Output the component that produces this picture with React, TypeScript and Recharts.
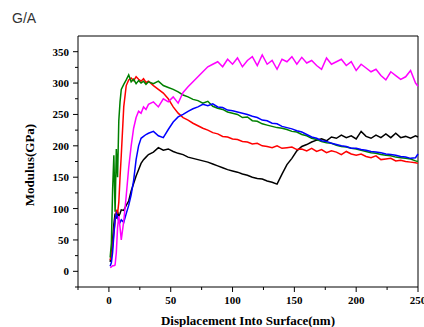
import React from 'react';
import { LineChart, Line, XAxis, YAxis, ReferenceLine, Label } from 'recharts';

// indentation depth (nm), shared by all five curves
const DEPTH = [
  1, 2, 3, 4, 5, 6, 7, 8, 9, 10,
  12, 14, 16, 18, 20, 22, 24, 26, 28, 30,
  32, 36, 40, 44, 48, 52, 56, 60, 64, 68, 72, 76, 80, 84, 88, 92, 96, 100,
  104, 108, 112, 116, 120, 124, 128, 132, 136, 140, 144, 148, 152, 156, 160,
  164, 168, 172, 176, 180, 184, 188, 192, 196, 200, 204, 208, 212, 216, 220,
  224, 228, 232, 236, 240, 244, 248, 250,
];

// modulus (GPa) for each sample
const BLACK = [
  15, 28, 50, 75, 92, 84, 95, 88, 92, 98,
  97, 105, 112, 128, 140, 152, 162, 172, 178, 182,
  186, 190, 197, 193, 195, 191, 188, 186, 182, 180, 178, 176, 174, 171, 168, 165, 162, 160,
  158, 155, 153, 150, 148, 147, 144, 142, 139, 155, 170, 180, 192, 199, 202,
  206, 209, 211, 208, 214, 212, 217, 213, 216, 211, 223, 215, 212, 217, 213,
  219, 213, 220, 213, 215, 212, 216, 214,
];

const RED = [
  18, 25, 40, 62, 80, 98, 92, 110, 150, 185,
  262, 296, 305, 308, 304, 310, 306, 303, 307, 301,
  303, 296, 290, 284, 275, 262, 252, 245, 241, 236, 232, 228, 225, 221, 219, 215, 214, 211,
  210, 207, 206, 203, 204, 200, 199, 197, 200, 196, 197, 198, 194, 195, 192,
  196, 191, 194, 189, 192, 190, 186, 191, 187, 185, 187, 183, 181, 184, 178,
  179, 180, 176, 177, 175, 174, 173, 172,
];

const GREEN = [
  22, 45, 130, 185, 95, 195, 150, 240, 270, 290,
  298, 305, 313, 302, 306, 299, 304, 300, 303, 298,
  302, 299, 303, 296, 293, 290, 286, 281, 278, 274, 272, 268, 271, 263, 260, 258, 254, 252,
  250, 245, 246, 240, 239, 235, 233, 231, 229, 228, 226, 223, 222, 218, 216,
  212, 210, 207, 205, 204, 201, 199, 198, 196, 195, 193, 191, 189, 188, 186,
  185, 184, 182, 181, 180, 179, 176, 175,
];

const BLUE = [
  8, 14, 30, 58, 82, 92, 86, 80, 78, 82,
  78, 92, 105, 122, 145, 178, 200, 212, 215, 218,
  220, 223, 216, 213, 226, 238, 246, 250, 255, 259, 262, 266, 264, 267, 262, 261, 257, 256,
  254, 252, 250, 247, 245, 241, 240, 236, 235, 231, 229, 227, 224, 222, 218,
  214, 212, 208, 207, 204, 202, 200, 199, 196, 196, 194, 193, 191, 190, 189,
  187, 186, 185, 183, 182, 180, 181, 187,
];

const MAGENTA = [
  6, 7, 9, 9, 10, 30, 70, 88, 70, 50,
  80, 120, 165, 200, 228, 245, 255, 252, 262, 258,
  266, 270, 262, 275, 270, 278, 268, 285, 294, 302, 310, 318, 326, 330, 334, 326, 338, 330,
  340, 326, 336, 342, 328, 345, 330, 336, 322, 338, 334, 342, 330, 341, 332,
  336, 328, 322, 340, 330, 334, 338, 328, 334, 320, 330, 324, 318, 322, 312,
  305, 318, 312, 306, 310, 320, 300, 295,
];

const X_TICKS = [-25, 0, 25, 50, 75, 100, 125, 150, 175, 200, 225, 250];
const Y_TICKS = [-25, 0, 25, 50, 75, 100, 125, 150, 175, 200, 225, 250, 275, 300, 325, 350];

const SERIES = [
  { key: 'black', values: BLACK, color: '#000000' },
  { key: 'red', values: RED, color: '#ff0000' },
  { key: 'green', values: GREEN, color: '#008000' },
  { key: 'blue', values: BLUE, color: '#0000ff' },
  { key: 'magenta', values: MAGENTA, color: '#ff00ff' },
];

const data = DEPTH.map((d, i) => {
  const row: Record<string, number> = { depth: d };
  SERIES.forEach((s) => {
    row[s.key] = s.values[i];
  });
  return row;
});

const SERIF = '"Liberation Serif", "Times New Roman", serif';

// tick marks drawn by hand so minor ticks can be shorter than major ones
const XTick = ({ x, y, payload }: any) => {
  const major = payload.value % 50 === 0;
  const y0 = y - 7;
  return (
    <g>
      <line x1={x} x2={x} y1={y0} y2={y0 + (major ? 5 : 3)} stroke="#000" strokeWidth={1} />
      {major && (
        <text x={x} y={y0 + 17} textAnchor="middle" fontFamily={SERIF} fontWeight="bold" fontSize={11} fill="#000">
          {payload.value}
        </text>
      )}
    </g>
  );
};

const YTick = ({ x, y, payload }: any) => {
  const major = payload.value % 50 === 0;
  const x0 = x + 7;
  return (
    <g>
      <line x1={x0} x2={x0 - (major ? 5 : 3)} y1={y} y2={y} stroke="#000" strokeWidth={1} />
      {major && (
        <text x={x0 - 9} y={y + 4} textAnchor="end" fontFamily={SERIF} fontWeight="bold" fontSize={11} fill="#000">
          {payload.value}
        </text>
      )}
    </g>
  );
};

export default function App() {
  return (
    <div style={{ position: 'absolute', left: 0, top: 0, width: 424, height: 327, background: '#fff' }}>
      <div
        style={{
          position: 'absolute',
          left: 12,
          top: 10,
          fontFamily: '"Liberation Sans", Arial, sans-serif',
          fontSize: 14,
          color: '#333',
        }}
      >
        G/A
      </div>
      <LineChart width={424} height={327} data={data} margin={{ top: 36, right: 6, left: 0, bottom: 0 }}>
        <XAxis
          dataKey="depth"
          type="number"
          domain={[-25, 250]}
          ticks={X_TICKS}
          interval={0}
          height={40}
          tickSize={5}
          tickMargin={2}
          tickLine={false}
          axisLine={{ stroke: '#000', strokeWidth: 1 }}
          tick={<XTick />}
        >
          <Label
            content={() => (
              <text x={248} y={325} textAnchor="middle" fontFamily={SERIF} fontWeight="bold" fontSize={13} fill="#000">
                Displacement Into Surface(nm)
              </text>
            )}
          />
        </XAxis>
        <YAxis
          type="number"
          domain={[-25, 375]}
          ticks={Y_TICKS}
          interval={0}
          width={78}
          tickSize={5}
          tickMargin={2}
          tickLine={false}
          axisLine={{ stroke: '#000', strokeWidth: 1 }}
          tick={<YTick />}
        >
          <Label
            content={() => (
              <text
                x={34}
                y={165}
                transform="rotate(-90 34 165)"
                textAnchor="middle"
                fontFamily={SERIF}
                fontWeight="bold"
                fontSize={13}
                fill="#000"
              >
                Modulus(GPa)
              </text>
            )}
          />
        </YAxis>
        {/* box frame on the top and right */}
        <ReferenceLine y={375} stroke="#000" strokeWidth={1} />
        <ReferenceLine x={250} stroke="#000" strokeWidth={1} />
        {SERIES.map((s) => (
          <Line
            key={s.key}
            dataKey={s.key}
            stroke={s.color}
            strokeWidth={1.5}
            dot={false}
            type="linear"
            isAnimationActive={false}
          />
        ))}
      </LineChart>
    </div>
  );
}
